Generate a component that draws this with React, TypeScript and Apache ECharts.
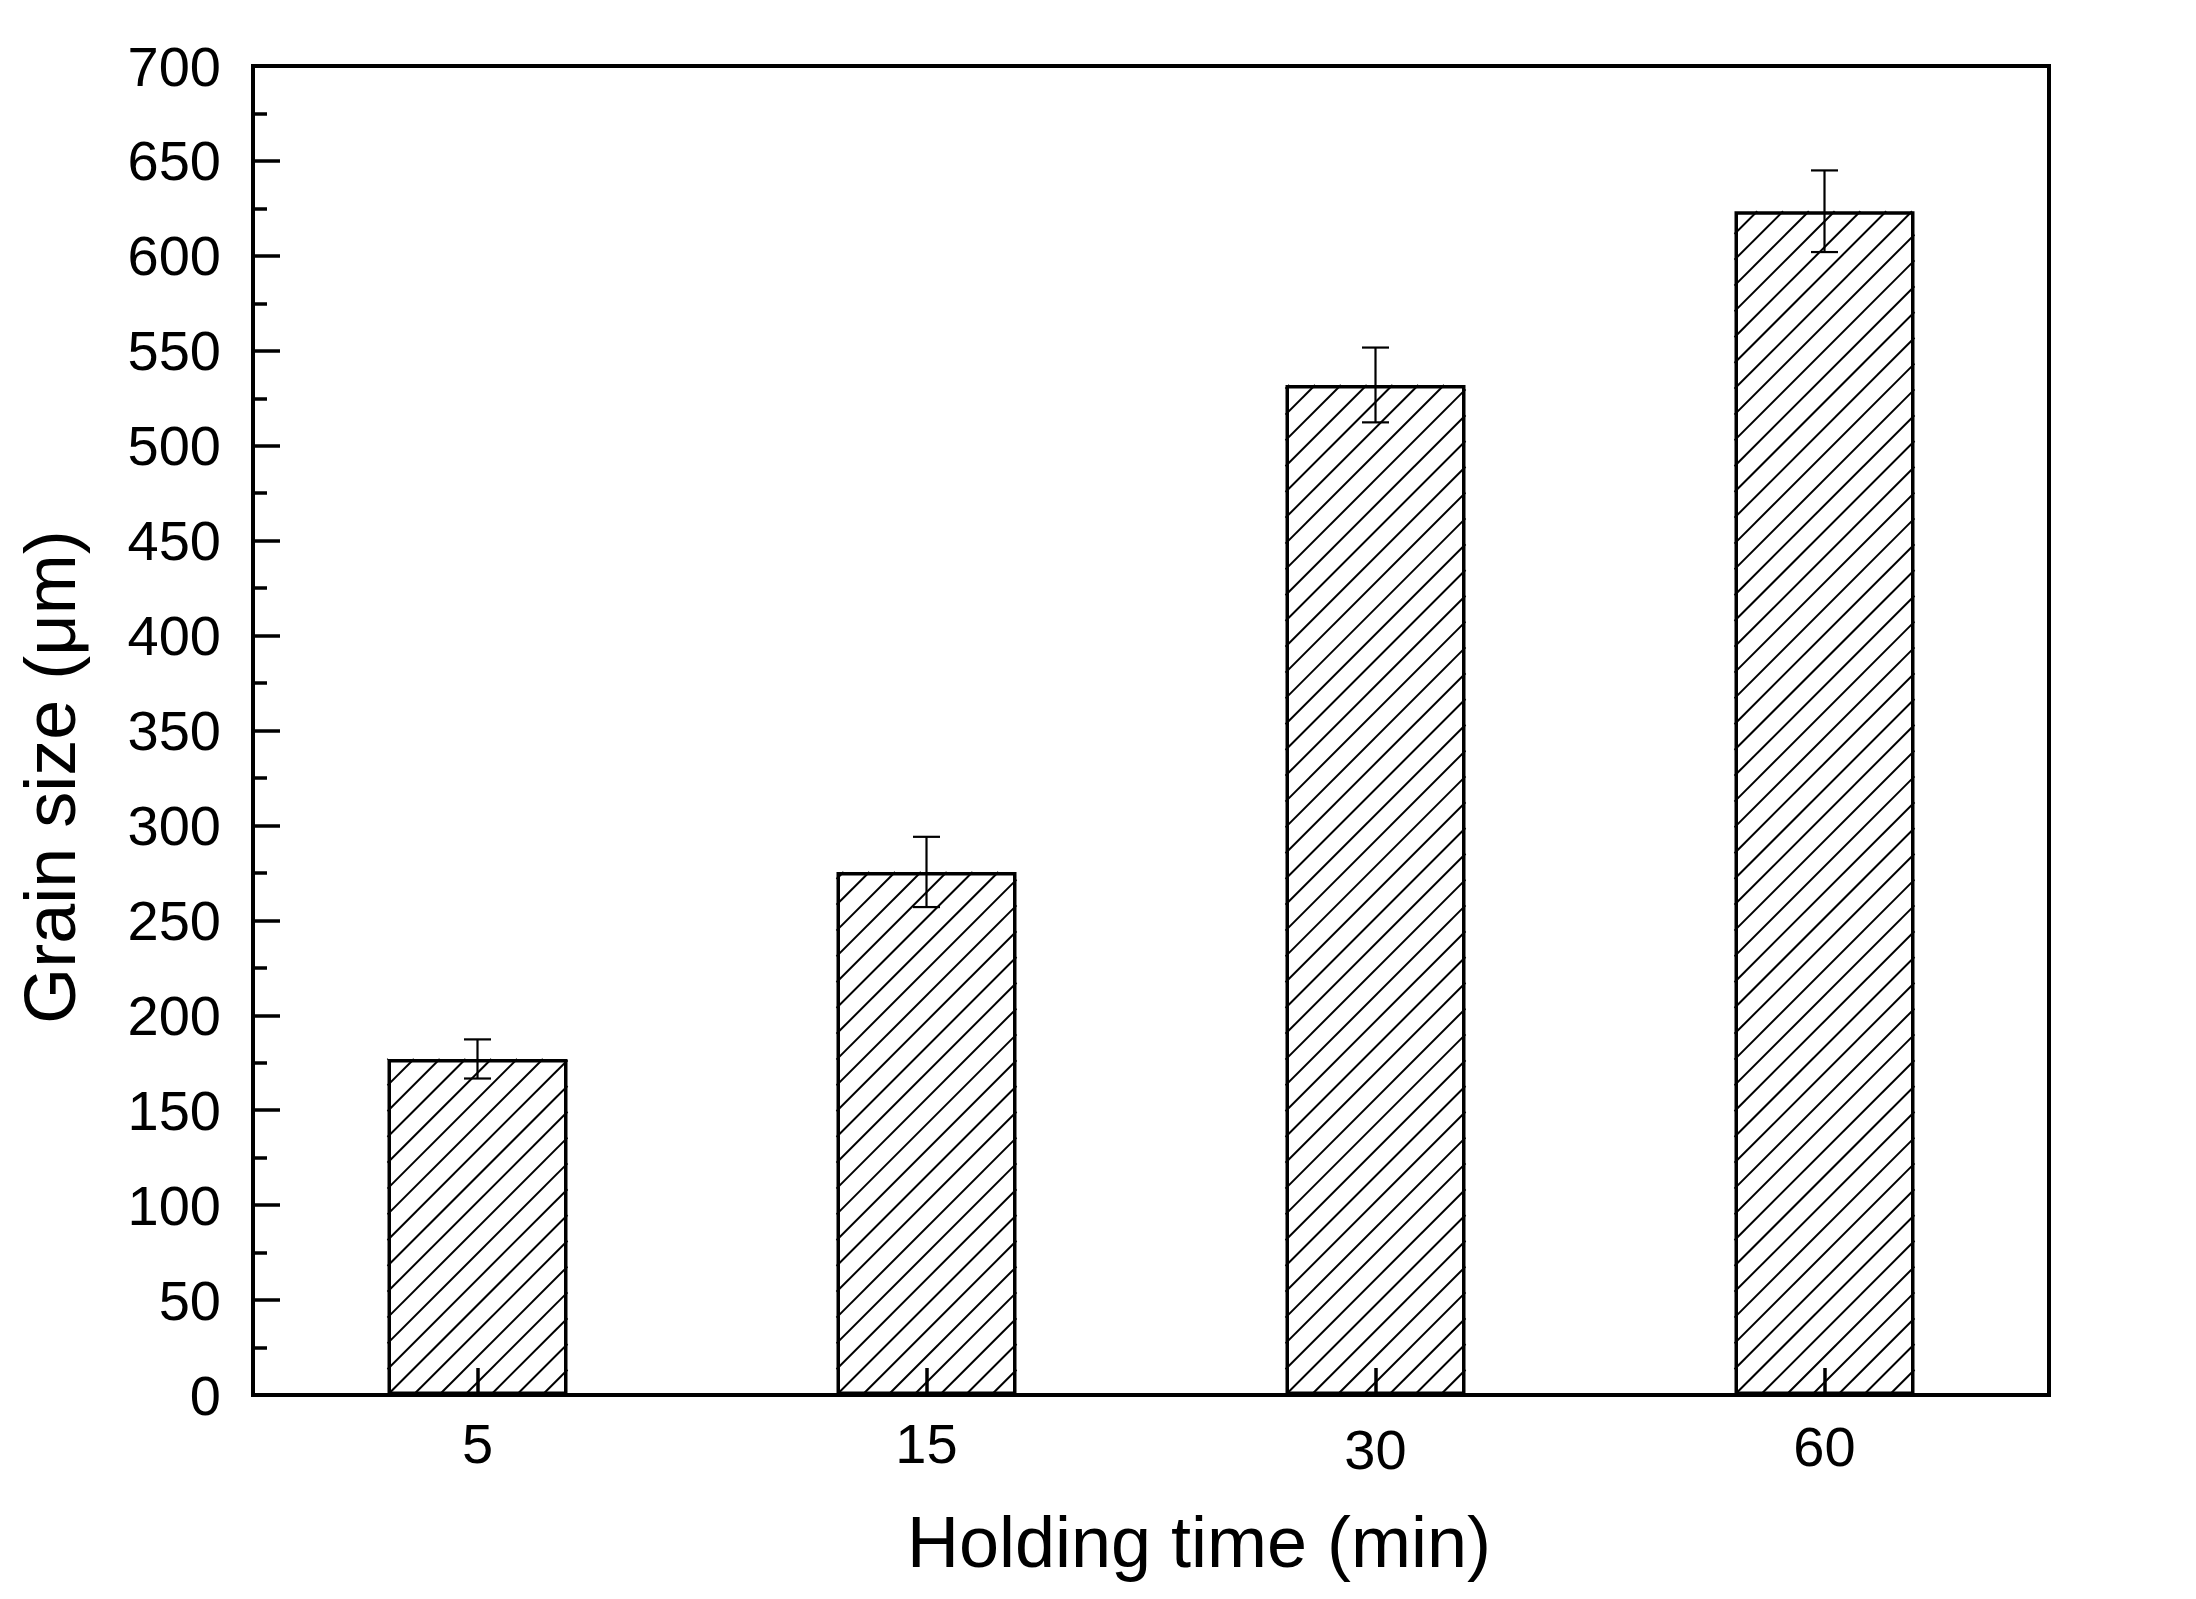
import React, { useEffect, useRef } from "react";
import * as echarts from "echarts";

const categories = ["5", "15", "30", "60"];
const grainSize = [177, 275.5, 532, 623.5];
const grainError = [10.3, 18.5, 19.7, 21.5];
const yTicks = { min: 0, max: 700, interval: 50 };
const xTitle = "Holding time (min)";
const yTitle = "Grain size (μm)";

const FONT = "'Liberation Sans', Arial, Helvetica, sans-serif";
const BAR_W = 180;
const HATCH_STEP = 25.8;

export default function App() {
  const ref = useRef<HTMLDivElement>(null);
  useEffect(() => {
    if (!ref.current) return;
    const chart = echarts.init(ref.current, null, { renderer: "svg" });
    const labelPad: Record<string, number> = { "30": 6, "60": 3 };
    const option: any = {
      animation: false,
      backgroundColor: "#fff",
      grid: {
        left: 253,
        right: 147,
        top: 66,
        bottom: 204,
        show: true,
        borderColor: "#000",
        borderWidth: 4,
        backgroundColor: "transparent",
      },
      xAxis: {
        type: "category",
        data: categories.map((c) => ({
          value: c,
          textStyle: { padding: [labelPad[c] || 0, 0, 0, 0] },
        })),
        boundaryGap: true,
        axisLine: { show: true, lineStyle: { color: "#000", width: 4 } },
        axisTick: {
          show: true,
          inside: true,
          alignWithLabel: true,
          length: 27,
          lineStyle: { color: "#000", width: 3.5 },
        },
        axisLabel: {
          color: "#000",
          fontFamily: FONT,
          fontSize: 56,
          margin: 20,
        },
        splitLine: { show: false },
        z: 10,
      },
      yAxis: {
        type: "value",
        min: yTicks.min,
        max: yTicks.max,
        interval: yTicks.interval,
        axisLine: { show: true, lineStyle: { color: "#000", width: 4 } },
        axisTick: {
          show: true,
          inside: true,
          length: 27,
          lineStyle: { color: "#000", width: 3.5 },
        },
        minorTick: {
          show: true,
          splitNumber: 2,
          length: 14,
          lineStyle: { color: "#000", width: 3.5 },
        },
        axisLabel: {
          color: "#000",
          fontFamily: FONT,
          fontSize: 56,
          margin: 32,
        },
        splitLine: { show: false },
      },
      series: [
        {
          type: "bar",
          data: grainSize,
          barWidth: BAR_W,
          itemStyle: {
            color: "#fff",
            borderColor: "#000",
            borderWidth: 3.5,
          },
          z: 2,
        },
        {
          type: "custom",
          z: 3,
          data: grainSize.map((v, i) => [i, v]),
          encode: { x: 0, y: 1 },
          renderItem: (params: any, api: any) => {
            const i = api.value(0);
            const v = api.value(1);
            const topPt = api.coord([i, v]);
            const botPt = api.coord([i, 0]);
            const x0 = topPt[0] - BAR_W / 2;
            const x1 = topPt[0] + BAR_W / 2;
            const yTop = topPt[1];
            const yBot = botPt[1];
            const c0 = x0 + yBot;
            const kMin = Math.ceil((x0 + yTop - c0) / HATCH_STEP);
            const kMax = Math.floor((x1 + yBot - c0) / HATCH_STEP);
            const children: any[] = [];
            for (let k = kMin; k <= kMax; k++) {
              const c = c0 + k * HATCH_STEP;
              const xa = Math.max(x0, c - yBot);
              const xb = Math.min(x1, c - yTop);
              if (xb - xa < 0.5) continue;
              children.push({
                type: "line",
                shape: { x1: xa, y1: c - xa, x2: xb, y2: c - xb },
                style: { stroke: "#000", lineWidth: 2 },
              });
            }
            return { type: "group", children };
          },
        },
        {
          type: "custom",
          z: 5,
          data: grainSize.map((v, i) => [i, v, grainError[i]]),
          encode: { x: 0, y: 1 },
          renderItem: (params: any, api: any) => {
            const i = api.value(0);
            const m = api.value(1);
            const e = api.value(2);
            const top = api.coord([i, m + e]);
            const bot = api.coord([i, m - e]);
            const hw = 13.5;
            const style = { stroke: "#000", lineWidth: 2.2 };
            return {
              type: "group",
              children: [
                { type: "line", shape: { x1: top[0], y1: top[1], x2: bot[0], y2: bot[1] }, style },
                { type: "line", shape: { x1: top[0] - hw, y1: top[1], x2: top[0] + hw, y2: top[1] }, style },
                { type: "line", shape: { x1: bot[0] - hw, y1: bot[1], x2: bot[0] + hw, y2: bot[1] }, style },
              ],
            };
          },
        },
      ],
      graphic: [
        {
          type: "text",
          x: 1199,
          y: 1542,
          style: {
            text: xTitle,
            font: `72px ${FONT}`,
            fill: "#000",
            textAlign: "center",
            textVerticalAlign: "middle",
          },
        },
        {
          type: "text",
          x: 50,
          y: 777,
          rotation: Math.PI / 2,
          style: {
            text: yTitle,
            font: `72px ${FONT}`,
            fill: "#000",
            textAlign: "center",
            textVerticalAlign: "middle",
          },
        },
      ],
    };
    chart.setOption(option);
    return () => chart.dispose();
  }, []);
  return (
    <div
      ref={ref}
      style={{ position: "fixed", left: 0, top: 0, width: 2196, height: 1599, background: "#fff" }}
    />
  );
}
